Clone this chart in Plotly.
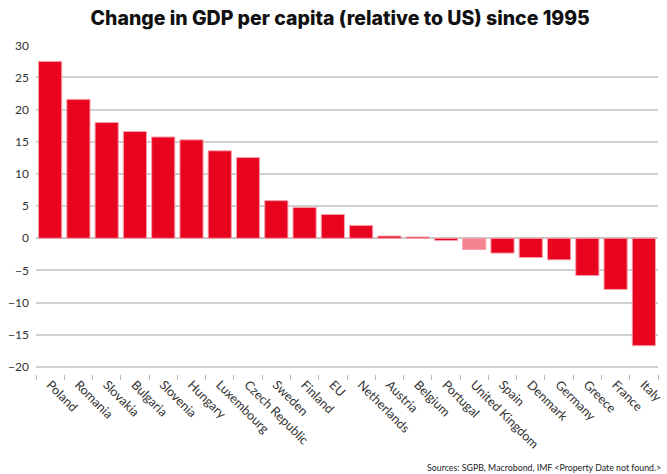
import plotly.graph_objects as go

# Change in GDP per capita relative to the US since 1995 (percentage points)
countries = ["Poland", "Romania", "Slovakia", "Bulgaria", "Slovenia", "Hungary",
             "Luxembourg", "Czech Republic", "Sweden", "Finland", "EU", "Netherlands",
             "Austria", "Belgium", "Portugal", "United Kingdom", "Spain", "Denmark",
             "Germany", "Greece", "France", "Italy"]
change = [27.5, 21.6, 18.0, 16.6, 15.75, 15.3, 13.6, 12.55, 5.85, 4.8, 3.7, 2.0,
          0.35, 0.2, -0.35, -1.75, -2.3, -3.0, -3.35, -5.8, -7.95, -16.7]
y_ticks = [30, 25, 20, 15, 10, 5, 0, -5, -10, -15, -20]

RED = "#E8041E"
LIGHT_RED = "#F4848F"
highlight = "United Kingdom"
colors = [LIGHT_RED if c == highlight else RED for c in countries]

fig = go.Figure(go.Bar(
    x=countries,
    y=change,
    marker=dict(color=colors, line=dict(color="#F7A1AA", width=1)),
    hoverinfo="x+y",
))

fig.update_layout(
    width=667,
    height=474,
    margin=dict(l=36, r=9, t=45, b=100, autoexpand=False),
    paper_bgcolor="white",
    plot_bgcolor="white",
    bargap=0.18,
    showlegend=False,
    title=dict(
        text="Change in GDP per capita (relative to US) since 1995",
        x=0.51, xanchor="center", y=0.962, yanchor="middle",
        font=dict(family="Inter", size=19.5, weight=800, color="#111111"),
    ),
    font=dict(family="Lato", color="#333333"),
    annotations=[dict(
        text="Sources: SGPB, Macrobond, IMF <Property Date not found.>",
        xref="paper", yref="paper", x=1.008, y=-0.285,
        xanchor="right", yanchor="middle", showarrow=False,
        font=dict(family="Lato", size=8.8, color="#222222"),
    )],
)

fig.update_xaxes(
    tickangle=45,
    tickfont=dict(family="Lato", size=12.6, color="#333333"),
    ticks="outside", tickson="boundaries", ticklen=5, tickcolor="#BBBBBB",
    showline=False, showgrid=False, zeroline=False,
    automargin=False,
)

fig.update_yaxes(
    range=[-21.1, 30.05],
    tickvals=y_ticks,
    tickfont=dict(family="Lato", size=12, color="#333333"),
    showgrid=True, gridcolor="#D0D0D0", gridwidth=1.5,
    zeroline=True, zerolinecolor="#C8C8C8", zerolinewidth=1.5,
    showline=False, ticks="", ticklabelstandoff=6,
    automargin=False,
)

fig.write_html("out.html")
